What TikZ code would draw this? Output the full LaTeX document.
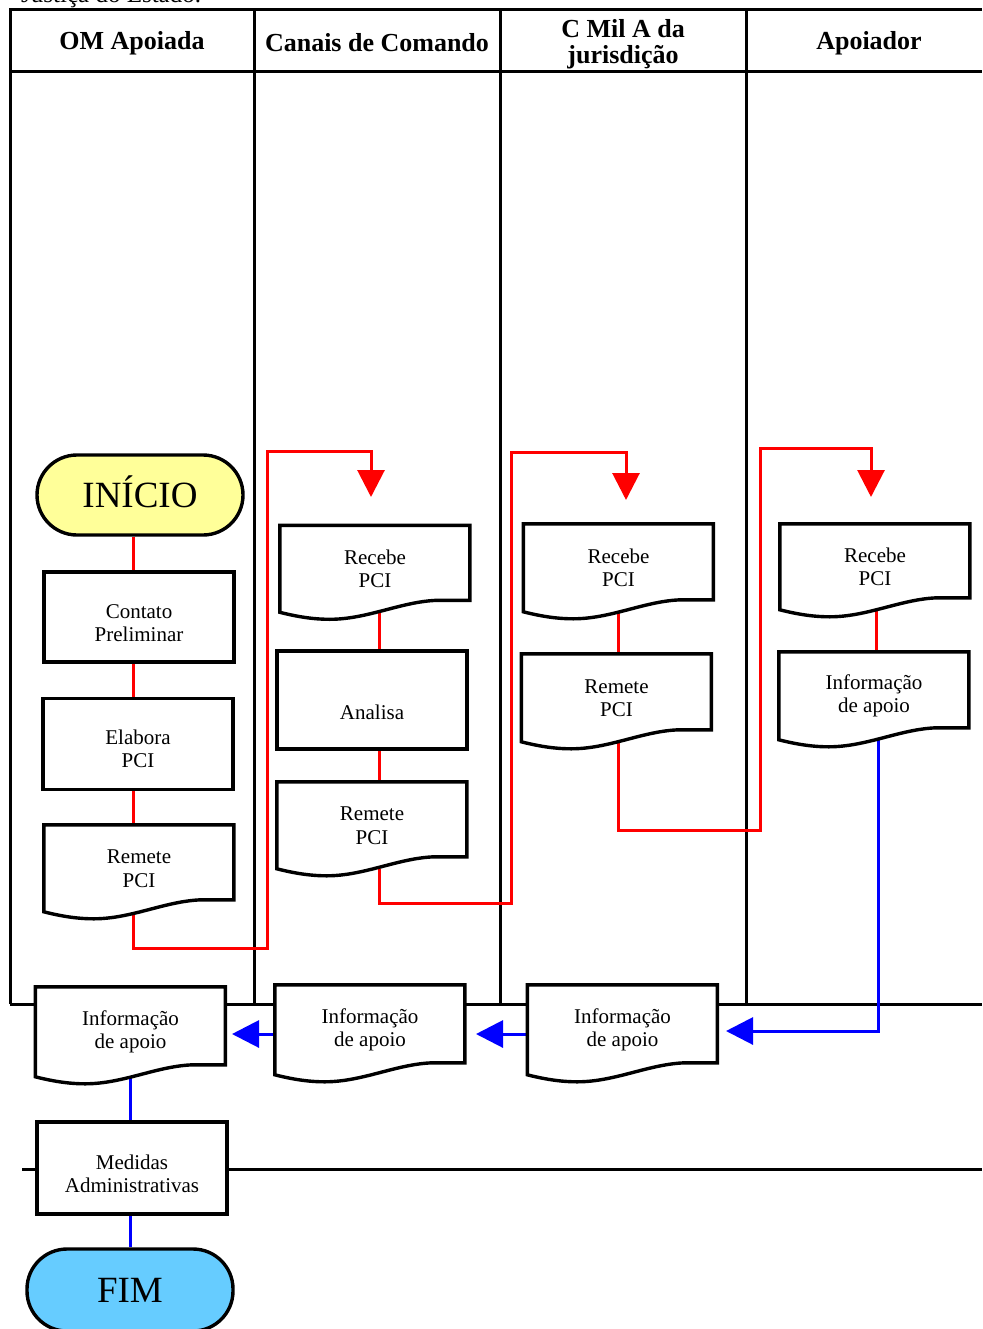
\documentclass[tikz,border=0pt]{standalone}
\usepackage{fontspec}
\setmainfont{Liberation Serif}
\usetikzlibrary{arrows.meta}

\pgfdeclarelayer{lanes}
\pgfdeclarelayer{links}
\pgfdeclarelayer{shapes}
\pgfsetlayers{lanes,links,shapes,main}

\definecolor{startyellow}{HTML}{FFFF99}
\definecolor{endblue}{HTML}{66CCFF}

\tikzset{
  lane/.style={line width=3pt, black},
  txt/.style={align=center, inner sep=0pt, font=\fontsize{21}{23.5}\selectfont},
  head/.style={align=center, inner sep=0pt, font=\fontsize{26}{26}\selectfont\bfseries},
  proc/.style={draw, line width=3.4pt, fill=white, minimum width=190pt, minimum height=90pt, inner sep=0pt},
  docbox/.style={txt, minimum width=190pt, minimum height=#1pt},
  docline/.style={draw, line width=3.4pt, fill=white},
  terminal/.style={draw, line width=3.4pt, rounded corners=40pt, minimum width=206pt,
    minimum height=80pt, inner sep=0pt, font=\fontsize{37}{37}\selectfont,
    text height=25pt, text depth=0pt},
  redlink/.style={line width=3pt, red},
  redflow/.style={redlink, -{Triangle[length=27pt,width=27pt]}},
  bluelink/.style={line width=3pt, blue},
  blueflow/.style={bluelink, -{Triangle[length=27pt,width=27pt]}},
}

% document symbol: text node plus outline with a wavy lower edge
% #1 height of the left side, #2 name, #3 centre, #4 text
\newcommand\docnode[4][87]{%
  \node[docbox=#1] (#2) at (#3) {#4};
  \begin{pgfonlayer}{shapes}
    \path[docline, shift={(#2.north west)}]
      (0,#1) -- (0,0) -- (190,0) -- (190,{#1-12}) -- (158,{#1-12})
      .. controls (122,{#1-11}) and (88,{#1+7}) .. (50,{#1+7})
      .. controls (32,{#1+7}) and (16,{#1+4}) .. (0,#1) -- cycle;
  \end{pgfonlayer}}

\begin{document}
\begin{tikzpicture}[x=1pt, y=-1pt]
\useasboundingbox (0,0) rectangle (982,1329);

% caption line of the page above the chart
\node[anchor=base west, inner sep=0pt, font=\fontsize{25}{25}\selectfont] (src) at (21,3) {Justiça do Estado.};

% swimlanes
\begin{pgfonlayer}{lanes}
  \draw[lane] (10,1004) -- (10,10) -- (982,10);
  \draw[lane] (10,72) -- (982,72);
  \draw[lane] (254,10) -- (254,1004);
  \draw[lane] (500,10) -- (500,1004);
  \draw[lane] (746,10) -- (746,1004);
  \draw[lane] (10,1004) -- (982,1004);
  \draw[lane] (22,1169) -- (982,1169);
\end{pgfonlayer}

\node[head] (h1) at (132,43) {OM Apoiada};
\node[head] (h2) at (377,43) {Canais de Comando};
\node[head] (h3) at (623,44) {C Mil A da\\jurisdição};
\node[head] (h4) at (869,43) {Apoiador};

% OM Apoiada
\node[terminal, fill=startyellow] (ini) at (140,495) {INÍCIO};
\node[proc] (cont) at (139,617) {};
\node[txt] (contT) at ([yshift=-6pt]cont.center) {Contato\\Preliminar};
\node[proc, minimum height=91pt] (elab) at (138,744) {};
\node[txt] (elabT) at ([yshift=-5pt]elab.center) {Elabora\\PCI};
\docnode{rem1}{139,868.5}{Remete\\PCI}

% Canais de Comando
\docnode{rec2}{375,569}{Recebe\\PCI}
\node[proc, minimum height=98pt] (ana) at (372,700) {};
\node[txt] (anaT) at ([yshift=-12pt]ana.center) {Analisa};
\docnode{rem2}{372,825.5}{Remete\\PCI}

% C Mil A da jurisdicao
\docnode[88]{rec3}{618.5,568}{Recebe\\PCI}
\docnode[88]{rem3}{616.5,698}{Remete\\PCI}

% Apoiador
\docnode[86]{rec4}{875,567}{Recebe\\PCI}
\docnode[88]{info4}{874,696}{Informação\\de apoio}

% return path
\docnode[90]{b1}{130.5,1032}{Informação\\de apoio}
\docnode[90]{b2}{370,1030}{Informação\\de apoio}
\docnode[90]{b3}{622.5,1030}{Informação\\de apoio}
\node[proc, minimum height=92pt] (med) at (132,1168) {};
\node[txt] (medT) at ([yshift=-6pt]med.center) {Medidas\\Administrativas};
\node[terminal, minimum height=82pt, fill=endblue] (fim) at (130,1290) {FIM};

% connector columns and bend points
\coordinate (c1) at (133,0);
\coordinate (c2) at (379,0);
\coordinate (c3) at (618,0);
\coordinate (c4) at (876,0);
\coordinate (cb) at (130,0);
\coordinate (r1a) at (133,948);
\coordinate (r1b) at (267,451);
\coordinate (a2) at (371,497);
\coordinate (r2a) at (379,903);
\coordinate (r2b) at (511,452);
\coordinate (a3) at (626,500);
\coordinate (r3a) at (618,830);
\coordinate (r3b) at (760,448);
\coordinate (a4) at (871,497);
\coordinate (bturn) at (878,1031);
\coordinate (a5) at (726,1031);
\coordinate (a6) at (476,1034);
\coordinate (a7) at (232,1034);

\begin{pgfonlayer}{links}
  % forward flow (red)
  \draw[redlink] (ini.south -| c1) -- (cont.north -| c1);
  \draw[redlink] (cont.south -| c1) -- (elab.north -| c1);
  \draw[redlink] (elab.south -| c1) -- (rem1.north -| c1);
  \draw[redflow] (rem1.south -| c1) -- (r1a) -| (r1b) -| (a2);

  \draw[redlink] (rec2.south -| c2) -- (ana.north -| c2);
  \draw[redlink] (ana.south -| c2) -- (rem2.north -| c2);
  \draw[redflow] (rem2.south -| c2) -- (r2a) -| (r2b) -| (a3);

  \draw[redlink] (rec3.south -| c3) -- (rem3.north -| c3);
  \draw[redflow] (rem3.south -| c3) -- (r3a) -| (r3b) -| (a4);

  \draw[redlink] (rec4.south -| c4) -- (info4.north -| c4);

  % return flow (blue)
  \draw[blueflow] (info4.south -| bturn) -- (bturn) -- (a5);
  \draw[blueflow] (b3.west |- a6) -- (a6);
  \draw[blueflow] (b2.west |- a7) -- (a7);
  \draw[bluelink] (b1.south -| cb) -- (med.north -| cb);
  \draw[bluelink] (med.south -| cb) -- (fim.north -| cb);
\end{pgfonlayer}
\end{tikzpicture}
\end{document}
